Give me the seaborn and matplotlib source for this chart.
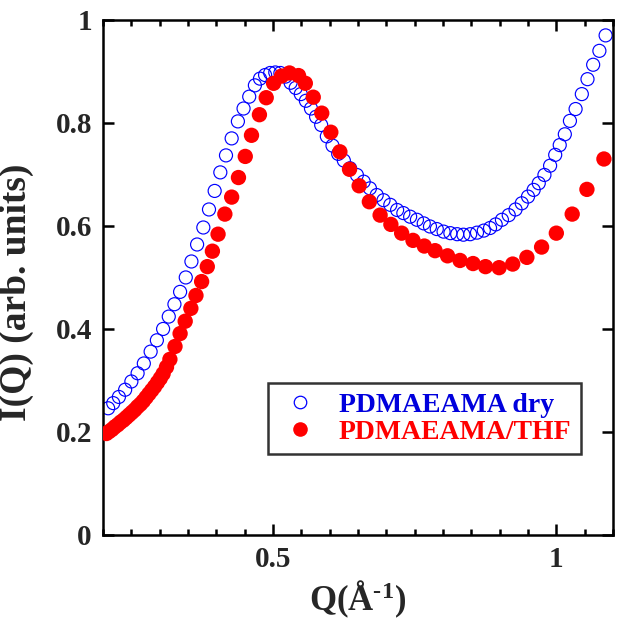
import matplotlib
matplotlib.use("Agg")
import matplotlib.pyplot as plt
import seaborn as sns
import pandas as pd
from matplotlib.lines import Line2D
from matplotlib.ticker import MultipleLocator, FixedLocator

# ---- data ----
q_dry = [0.209, 0.218, 0.228, 0.239, 0.250, 0.261, 0.272, 0.284, 0.295, 0.306,
         0.316, 0.326, 0.336, 0.346, 0.356, 0.366, 0.377, 0.387, 0.397, 0.407,
         0.417, 0.427, 0.438, 0.448, 0.458, 0.468, 0.477, 0.486, 0.495, 0.504,
         0.513, 0.522, 0.531, 0.540, 0.549, 0.558, 0.567, 0.576, 0.585, 0.595,
         0.605, 0.615, 0.625, 0.636, 0.648, 0.660, 0.671, 0.683, 0.695, 0.707,
         0.719, 0.730, 0.742, 0.754, 0.766, 0.777, 0.789, 0.801, 0.813, 0.825,
         0.836, 0.848, 0.860, 0.872, 0.883, 0.893, 0.904, 0.916, 0.928, 0.939,
         0.950, 0.960, 0.969, 0.979, 0.989, 0.998, 1.006, 1.015, 1.024, 1.034,
         1.045, 1.055, 1.065, 1.076, 1.087]
i_dry = [0.246, 0.256, 0.268, 0.282, 0.298, 0.314, 0.333, 0.356, 0.378, 0.400,
         0.424, 0.448, 0.472, 0.500, 0.531, 0.564, 0.597, 0.632, 0.668, 0.704,
         0.737, 0.770, 0.803, 0.828, 0.851, 0.873, 0.886, 0.893, 0.897, 0.898,
         0.897, 0.890, 0.878, 0.868, 0.856, 0.843, 0.828, 0.812, 0.796, 0.774,
         0.756, 0.740, 0.727, 0.712, 0.699, 0.686, 0.673, 0.660, 0.650, 0.641,
         0.631, 0.625, 0.618, 0.612, 0.605, 0.599, 0.594, 0.589, 0.586, 0.584,
         0.583, 0.584, 0.587, 0.591, 0.596, 0.603, 0.612, 0.621, 0.632, 0.644,
         0.657, 0.670, 0.683, 0.699, 0.717, 0.738, 0.757, 0.778, 0.804, 0.827,
         0.856, 0.885, 0.913, 0.940, 0.970]

q_thf = [0.206, 0.211, 0.216, 0.221, 0.226, 0.231, 0.236, 0.241, 0.246, 0.251,
         0.256, 0.261, 0.266, 0.271, 0.276, 0.281, 0.286, 0.291, 0.296, 0.301,
         0.306, 0.312, 0.318, 0.327, 0.336, 0.345, 0.355, 0.364, 0.374, 0.384,
         0.393, 0.403, 0.415, 0.427, 0.439, 0.451, 0.462, 0.476, 0.488, 0.501,
         0.515, 0.529, 0.545, 0.557, 0.571, 0.586, 0.602, 0.618, 0.635, 0.652,
         0.670, 0.689, 0.708, 0.727, 0.747, 0.767, 0.786, 0.808, 0.830, 0.853,
         0.875, 0.899, 0.923, 0.948, 0.974, 1.000, 1.028, 1.054, 1.084]
i_thf = [0.197, 0.201, 0.205, 0.210, 0.214, 0.219, 0.223, 0.228, 0.233, 0.238,
         0.243, 0.249, 0.254, 0.260, 0.267, 0.274, 0.281, 0.288, 0.296, 0.304,
         0.313, 0.326, 0.341, 0.366, 0.391, 0.415, 0.440, 0.465, 0.492, 0.521,
         0.551, 0.584, 0.623, 0.656, 0.694, 0.735, 0.776, 0.816, 0.849, 0.877,
         0.891, 0.897, 0.892, 0.877, 0.850, 0.819, 0.782, 0.744, 0.710, 0.678,
         0.647, 0.621, 0.603, 0.586, 0.572, 0.561, 0.552, 0.542, 0.533, 0.527,
         0.521, 0.519, 0.526, 0.539, 0.559, 0.586, 0.623, 0.671, 0.730]

labels = ["PDMAEAMA dry", "PDMAEAMA/THF"]
y_ticks = [0, 0.2, 0.4, 0.6, 0.8, 1]
y_ticklabels = ["0", "0.2", "0.4", "0.6", "0.8", "1"]
x_ticks = [0.5, 1.0]
x_ticklabels = ["0.5", "1"]

df_dry = pd.DataFrame({"Q": q_dry, "I": i_dry})
df_thf = pd.DataFrame({"Q": q_thf, "I": i_thf})

# ---- style ----
sns.set_theme(style="white")
plt.rcParams["font.family"] = ["Liberation Serif", "DejaVu Serif"]
plt.rcParams["font.weight"] = "bold"
plt.rcParams["mathtext.fontset"] = "custom"
plt.rcParams["mathtext.rm"] = "Liberation Serif:bold"
plt.rcParams["mathtext.bf"] = "Liberation Serif:bold"
plt.rcParams["mathtext.default"] = "bf"

BLUE = "#0000ff"
RED = "#ff0000"

fig = plt.figure(figsize=(6.17, 6.23), dpi=100)
ax = fig.add_axes([0.167, 0.1413, 0.8265, 0.8267])

sns.scatterplot(data=df_dry, x="Q", y="I", ax=ax, marker="o", s=88,
                color=BLUE, facecolor="none", edgecolor=BLUE, linewidth=0.85,
                legend=False, zorder=2)
sns.scatterplot(data=df_thf, x="Q", y="I", ax=ax, marker="o", s=122,
                color=RED, edgecolor="none", linewidth=0, legend=False, zorder=3)

ax.set_xlim(0.2, 1.1)
ax.set_ylim(0, 1)

ax.xaxis.set_major_locator(FixedLocator(x_ticks))
ax.set_xticklabels(x_ticklabels)
ax.xaxis.set_minor_locator(MultipleLocator(0.05))
ax.yaxis.set_major_locator(FixedLocator(y_ticks))
ax.set_yticklabels(y_ticklabels)

ax.tick_params(which="both", direction="in", top=True, right=True,
               bottom=True, left=True, width=1.8, color="black")
ax.tick_params(which="major", length=8, labelsize=21, pad=8)
ax.tick_params(which="minor", length=4.5)
for lab in ax.get_xticklabels() + ax.get_yticklabels():
    lab.set_fontweight("bold")

for sp in ax.spines.values():
    sp.set_linewidth(1.8)
    sp.set_color("black")

ax.set_xlabel("Q(Å$^{\\text{-}1}$)", fontsize=25, fontweight="bold", labelpad=4)
ax.set_ylabel("I(Q) (arb. units)", fontsize=27, fontweight="bold")
ax.yaxis.set_label_coords(-0.135, 0.472)

handles = [
    Line2D([], [], linestyle="none", marker="o", markersize=9,
           markerfacecolor="none", markeredgecolor=BLUE, markeredgewidth=0.9),
    Line2D([], [], linestyle="none", marker="o", markersize=10.5,
           markerfacecolor=RED, markeredgecolor="none"),
]
leg = ax.legend(handles, labels, loc="upper left",
                bbox_to_anchor=(0.3235, 0.296), borderaxespad=0,
                prop={"family": "Liberation Serif", "weight": "bold", "size": 20},
                frameon=True, fancybox=False, edgecolor="black",
                handletextpad=0.6, handlelength=1.6, labelspacing=0.05,
                borderpad=0.35)
leg.get_frame().set_linewidth(1.8)
leg.get_texts()[0].set_color("#0000dd")
leg.get_texts()[1].set_color(RED)

fig.savefig("out.png", dpi=100)
